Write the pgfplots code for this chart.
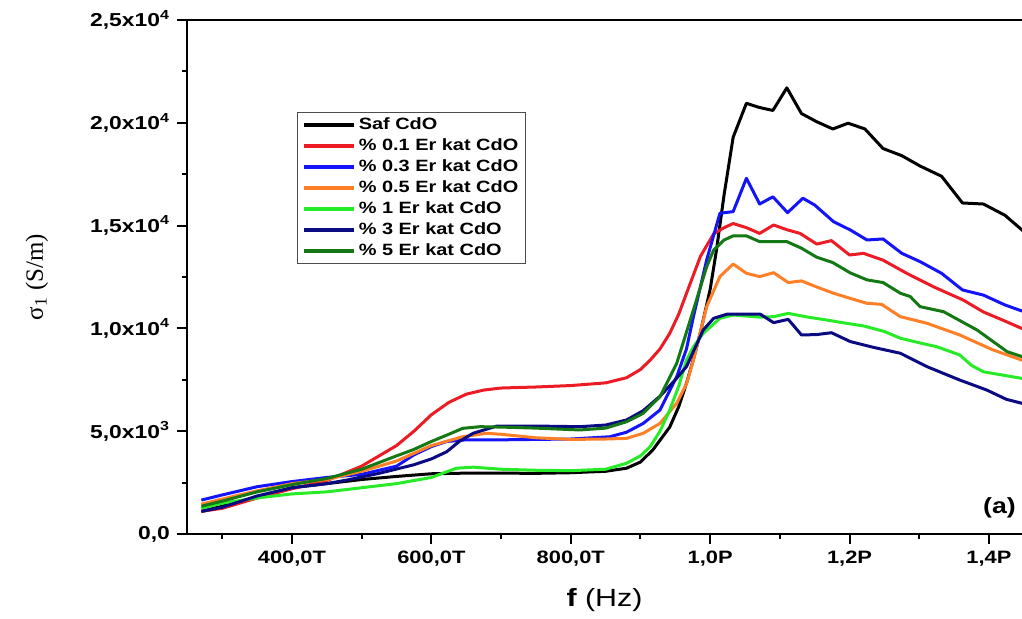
\documentclass[border=0pt]{standalone}
\usepackage{fontspec}
\setmainfont{Liberation Sans}[FakeStretch=1.22]
\newfontfamily\serif{Liberation Serif}
\usepackage{pgfplots}
\pgfplotsset{compat=1.18}
\definecolor{cred}{RGB}{237,28,36}
\definecolor{cblue}{RGB}{20,20,250}
\definecolor{corange}{RGB}{255,127,39}
\definecolor{clgreen}{RGB}{40,235,40}
\definecolor{cnavy}{RGB}{10,10,130}
\definecolor{cdgreen}{RGB}{20,120,20}
\begin{document}
\begin{tikzpicture}
\useasboundingbox (-93.5bp,-42.5bp) rectangle (417.5bp,267bp);
\begin{axis}[
  scale only axis,
  width=417.5bp, height=257bp,
  xmin=249.4, xmax=1447.4,
  ymin=0, ymax=25000,
  scaled ticks=false,
  axis lines*=left,
  axis line style={line width=1bp},
  tick style={line width=1bp, black},
  tick align=outside,
  major tick length=5bp, minor tick length=2.5bp,
  xtick={400,600,800,1000,1200,1400},
  xticklabels={{400,0T},{600,0T},{800,0T},{1,0P},{1,2P},{1,4P}},
  minor xtick={300,500,700,900,1100,1300},
  ytick={0,5000,10000,15000,20000,25000},
  yticklabels={{0,0},{5,0x10\textsuperscript{3}},{1,0x10\textsuperscript{4}},{1,5x10\textsuperscript{4}},{2,0x10\textsuperscript{4}},{2,5x10\textsuperscript{4}}},
  minor ytick={2500,7500,12500,17500,22500},
  xticklabel style={font=\bfseries\fontsize{9}{10}\selectfont},
  yticklabel style={font=\bfseries\fontsize{9.4}{10}\selectfont},
  xlabel={\textbf{f} (Hz)},
  ylabel={{\serif σ\textsubscript{1} (S/m)}},
  every axis x label/.style={at={(rel axis cs:0.5,0)}, yshift=-33bp, anchor=center, font=\fontsize{12.5}{14}\selectfont},
  every axis y label/.style={at={(rel axis cs:0,0.5)}, xshift=-75bp, rotate=90, anchor=center, font=\fontsize{12.5}{14}\selectfont},
  legend style={at={(rel axis cs:0.132,0.821)}, anchor=north west, draw=black!70, line width=0.6bp,
    font=\bfseries\fontsize{8.2}{9}\selectfont, inner xsep=2bp, inner ysep=1bp,
    nodes={text height=6bp, text depth=1.5bp, inner sep=1.5bp}},
  legend cell align=left,
  legend image code/.code={\draw[#1, line width=2bp] (0bp,0bp) -- (25bp,0bp);},
  every axis plot/.append style={line width=1.5bp, line join=round},
]
\addplot[black] coordinates {(270,1100) (300,1350) (350,1800) (400,2250) (450,2450) (500,2650) (550,2800) (600,2930) (650,2960) (700,2960) (750,2950) (800,2980) (850,3050) (880,3200) (900,3500) (918,4100) (942,5200) (955,6200) (966,7330) (976,8500) (986,9800) (1000,11900) (1009,13800) (1020,16500) (1033,19300) (1052,20950) (1070,20750) (1090,20600) (1110,21700) (1131,20450) (1153,20050) (1176,19700) (1198,19980) (1222,19700) (1248,18750) (1275,18400) (1301,17900) (1332,17400) (1362,16100) (1392,16050) (1423,15500) (1447,14800) (1456,14500)};
\addlegendentry{Saf CdO}
\addplot[cred] coordinates {(270,1100) (300,1250) (350,1750) (400,2200) (450,2600) (500,3300) (525,3800) (550,4300) (575,5000) (600,5800) (625,6400) (650,6800) (675,7000) (700,7100) (750,7150) (800,7220) (850,7350) (880,7600) (900,8000) (914,8460) (928,9000) (942,9760) (955,10700) (966,11700) (976,12600) (986,13500) (1005,14600) (1020,14900) (1033,15100) (1052,14900) (1071,14620) (1091,15030) (1110,14800) (1129,14620) (1153,14100) (1174,14270) (1200,13570) (1220,13650) (1248,13320) (1282,12680) (1320,12030) (1363,11380) (1392,10800) (1420,10400) (1447,10000) (1456,9900)};
\addlegendentry{\% 0.1 Er kat CdO}
\addplot[cblue] coordinates {(270,1650) (300,1900) (350,2300) (400,2550) (450,2750) (500,2900) (550,3300) (575,3850) (600,4250) (622,4500) (650,4580) (700,4580) (750,4600) (800,4620) (856,4730) (880,4950) (904,5380) (928,6030) (952,7650) (966,9000) (976,10570) (995,13330) (1014,15600) (1033,15680) (1052,17300) (1071,16050) (1090,16400) (1111,15630) (1133,16330) (1150,16000) (1177,15190) (1201,14790) (1225,14300) (1248,14350) (1275,13650) (1301,13250) (1332,12680) (1362,11870) (1392,11620) (1423,11140) (1447,10850) (1456,10800)};
\addlegendentry{\% 0.3 Er kat CdO}
\addplot[corange] coordinates {(270,1450) (300,1700) (350,2100) (400,2450) (450,2650) (500,3050) (550,3550) (600,4300) (645,4730) (679,4900) (700,4850) (750,4680) (800,4600) (850,4620) (880,4650) (904,4900) (928,5380) (952,6360) (966,7300) (976,8460) (995,11060) (1014,12520) (1033,13130) (1052,12680) (1071,12520) (1091,12710) (1112,12230) (1131,12310) (1154,12000) (1177,11710) (1201,11460) (1225,11220) (1246,11170) (1273,10570) (1311,10250) (1358,9680) (1406,8950) (1447,8460) (1456,8400)};
\addlegendentry{\% 0.5 Er kat CdO}
\addplot[clgreen] coordinates {(270,1250) (300,1500) (350,1750) (400,1950) (450,2050) (500,2250) (550,2450) (600,2750) (636,3200) (660,3250) (700,3150) (750,3100) (800,3080) (850,3150) (880,3440) (900,3800) (914,4250) (928,5000) (942,6030) (955,7200) (966,8460) (976,9100) (990,9760) (1014,10490) (1033,10650) (1052,10600) (1071,10550) (1091,10570) (1112,10730) (1140,10550) (1167,10410) (1195,10250) (1220,10120) (1250,9850) (1273,9520) (1300,9300) (1325,9110) (1358,8710) (1375,8200) (1392,7890) (1447,7570) (1456,7550)};
\addlegendentry{\% 1 Er kat CdO}
\addplot[cnavy] coordinates {(270,1100) (300,1300) (350,1850) (400,2250) (450,2450) (478,2620) (525,2950) (574,3360) (600,3650) (622,4000) (640,4500) (660,4900) (694,5250) (750,5250) (813,5220) (850,5300) (880,5545) (904,6000) (928,6700) (950,7500) (966,8140) (990,9920) (1005,10490) (1024,10690) (1050,10690) (1072,10690) (1091,10280) (1112,10440) (1131,9680) (1153,9700) (1174,9790) (1201,9360) (1234,9080) (1273,8790) (1311,8140) (1358,7490) (1397,7000) (1425,6550) (1447,6360) (1456,6300)};
\addlegendentry{\% 3 Er kat CdO}
\addplot[cdgreen] coordinates {(270,1350) (300,1600) (350,2050) (400,2400) (450,2700) (500,3150) (550,3800) (574,4100) (600,4500) (625,4850) (645,5140) (670,5220) (700,5200) (750,5150) (813,5060) (850,5150) (880,5460) (904,5870) (928,6680) (952,8300) (976,10900) (995,13000) (1005,13810) (1020,14300) (1033,14500) (1052,14500) (1071,14220) (1110,14220) (1131,13900) (1153,13460) (1176,13200) (1201,12700) (1225,12360) (1248,12230) (1273,11710) (1287,11550) (1301,11060) (1335,10810) (1383,9920) (1426,8870) (1447,8630) (1456,8550)};
\addlegendentry{\% 5 Er kat CdO}
\draw[line width=1bp] (rel axis cs:0,1) -- (rel axis cs:1,1);
\node[font=\bfseries\fontsize{11}{13}\selectfont] at (rel axis cs:0.973,0.05) {(a)};
\end{axis}
\end{tikzpicture}
\end{document}
